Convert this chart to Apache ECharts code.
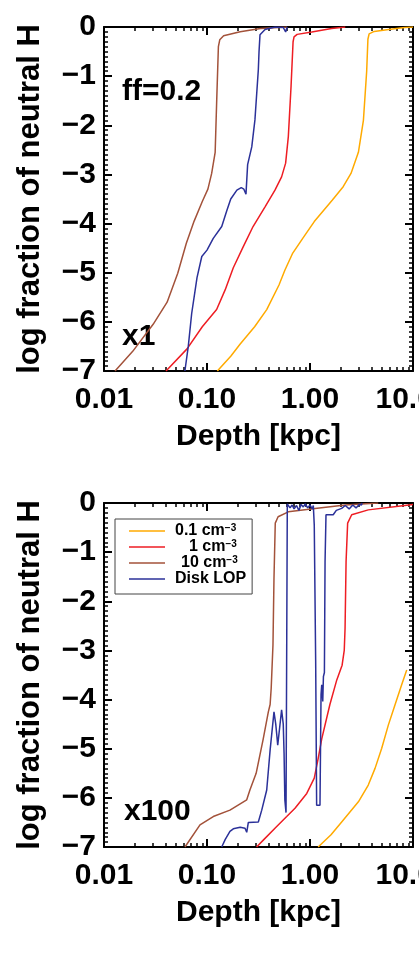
<!DOCTYPE html>
<html><head><meta charset="utf-8">
<script src="https://cdn.jsdelivr.net/npm/echarts@6/dist/echarts.min.js"></script>
<style>html,body{margin:0;padding:0;background:#fff}#c{width:419px;height:955px}</style>
</head><body><div id="c"></div>
<script>
// ---- data (x = depth in kpc, y = log fraction of neutral H) ----
const seriesNames = ['0.1 cm-3', '1 cm-3', '10 cm-3', 'Disk LOP'];
const xTickValues = [0.01, 0.1, 1, 10];
const xMinorValues = [0.02,0.03,0.04,0.05,0.06,0.07,0.08,0.09,0.2,0.3,0.4,0.5,0.6,0.7,0.8,0.9,2,3,4,5,6,7,8,9];
const panelLabels = ['x1', 'x100'];
const topNote = 'ff=0.2';

// panel 1 (x1, ff=0.2)
const topOrange = [[0.126,-7],[0.17,-6.7],[0.21,-6.45],[0.29,-6.1],[0.38,-5.75],[0.5,-5.25],[0.57,-4.95],[0.68,-4.6],[0.85,-4.3],[1.1,-3.96],[1.65,-3.52],[2.1,-3.25],[2.5,-2.98],[2.95,-2.55],[3.3,-1.9],[3.55,-0.9],[3.65,-0.25],[3.75,-0.14],[4.2,-0.09],[5.8,-0.05],[8.3,-0.01],[10,0]];
const topRed = [[0.04,-7],[0.064,-6.55],[0.09,-6.1],[0.124,-5.75],[0.15,-5.35],[0.18,-4.9],[0.225,-4.47],[0.28,-4.06],[0.366,-3.66],[0.457,-3.32],[0.53,-3.05],[0.58,-2.77],[0.616,-2.23],[0.655,-1.2],[0.685,-0.3],[0.7,-0.2],[0.75,-0.15],[1.04,-0.1],[1.62,-0.03],[2.2,0]];
const topBrown = [[0.0128,-7],[0.019,-6.6],[0.03,-6.05],[0.041,-5.6],[0.052,-5.01],[0.063,-4.4],[0.075,-3.95],[0.09,-3.55],[0.102,-3.3],[0.111,-2.98],[0.12,-2.55],[0.124,-1.55],[0.129,-0.4],[0.133,-0.26],[0.145,-0.18],[0.21,-0.095],[0.33,-0.03],[0.6,0]];
const topBlue = [[0.061,-7],[0.0658,-6.5],[0.071,-5.83],[0.08,-5.1],[0.089,-4.67],[0.1,-4.54],[0.115,-4.3],[0.139,-4.06],[0.155,-3.75],[0.17,-3.5],[0.195,-3.32],[0.215,-3.27],[0.228,-3.3],[0.239,-3.4],[0.248,-2.8],[0.272,-2.44],[0.292,-1.89],[0.315,-0.87],[0.32,-0.5],[0.327,-0.16],[0.366,-0.05],[0.457,0],[0.55,-0.01],[0.58,-0.1],[0.6,0]];

// panel 2 (x100)
const botOrange = [[1.2,-7],[1.6,-6.75],[2.03,-6.49],[2.95,-6.08],[3.68,-5.74],[4.28,-5.4],[4.97,-4.99],[5.76,-4.52],[6.68,-4.11],[7.76,-3.7],[8.69,-3.4]];
const botRed = [[0.303,-7],[0.352,-6.86],[0.457,-6.62],[0.594,-6.38],[0.715,-6.21],[0.93,-5.91],[1.1,-5.6],[1.2,-5.2],[1.3,-4.8],[1.56,-4.1],[1.82,-3.6],[2.05,-3.3],[2.15,-3.0],[2.19,-2.55],[2.24,-1.19],[2.32,-0.41],[2.54,-0.24],[3.68,-0.14],[8.3,-0.05],[10,-0.03]];
const botBrown = [[0.0611,-7],[0.0855,-6.55],[0.115,-6.38],[0.167,-6.25],[0.243,-6.04],[0.261,-5.84],[0.3,-5.5],[0.35,-4.82],[0.394,-4.25],[0.41,-4.1],[0.42,-3.77],[0.437,-2.89],[0.447,-1.53],[0.46,-0.41],[0.49,-0.28],[0.616,-0.18],[1.12,-0.11],[2.2,-0.04],[4.6,0]];
const botBlue = [[0.139,-7],[0.15,-6.85],[0.167,-6.68],[0.18,-6.63],[0.21,-6.6],[0.234,-6.62],[0.243,-6.7],[0.252,-6.5],[0.315,-6.49],[0.34,-6.25],[0.38,-5.84],[0.41,-5.03],[0.447,-4.25],[0.465,-4.5],[0.475,-4.7],[0.486,-4.93],[0.505,-4.93],[0.53,-4.21],[0.55,-4.5],[0.56,-5.09],[0.57,-6.04],[0.585,-6.3],[0.598,-6.3],[0.602,-0.02],[0.61,-0.02],[0.64,-0.1],[0.67,-0.04],[0.7,-0.12],[0.74,-0.05],[0.78,-0.15],[0.82,-0.03],[0.86,-0.08],[0.9,-0.02],[0.95,-0.1],[1.0,-0.04],[1.05,-0.12],[1.077,-0.05],[1.1,-0.45],[1.135,-3.2],[1.16,-6.15],[1.25,-6.15],[1.28,-3.9],[1.3,-3.7],[1.33,-4.04],[1.35,-3.53],[1.38,-3.45],[1.4,-1.2],[1.43,-0.24],[1.68,-0.24],[1.8,-0.15],[2.03,-0.11],[2.2,-0.05],[2.4,-0.12],[2.6,-0.04],[2.8,-0.1],[3.0,-0.03],[3.17,-0.04],[3.2,0]];

const colors = ['#FFAA00', '#EE1D23', '#A3523A', '#2B3199'];
const FONT = 'Liberation Sans, Arial, Helvetica, sans-serif';

const grids = [
  {left:104, top:27, width:309, height:344, show:false, containLabel:false, outerBoundsMode:'none'},
  {left:104, top:503, width:309, height:344, show:false, containLabel:false, outerBoundsMode:'none'}
];
const xAxes = [], yAxes = [];
function addX(gi, pos, main, minor){
  xAxes.push({
    type:'log', logBase:10, min:0.01, max:10, gridIndex:gi, position:pos,
    name: (main && pos==='bottom') ? 'Depth [kpc]' : '', nameLocation:'middle', nameGap:51, nameMoveOverlap:false,
    nameTextStyle:{fontFamily:FONT, fontWeight:'bold', fontSize:30, color:'#000'},
    axisLine:{show:main, onZero:false, lineStyle:{color:'#000', width:2}},
    axisTick:minor ? {show:true, inside:true, length:4, customValues:xMinorValues, lineStyle:{color:'#000', width:1.5}}
                   : {show:true, inside:true, length:8, customValues:xTickValues, lineStyle:{color:'#000', width:2}},
    axisLabel:{show:(main && pos==='bottom'), margin:14, customValues:xTickValues, fontFamily:FONT, fontWeight:'bold', fontSize:30, color:'#000',
      formatter:v=>Number(v).toFixed(2), hideOverlap:false, showMaxLabel:true, showMinLabel:true},
    splitLine:{show:false}, minorTick:{show:false}, minorSplitLine:{show:false}
  });
}
function addY(gi, pos){
  yAxes.push({
    type:'value', min:-7, max:0, interval:1, gridIndex:gi, position:pos,
    name: pos==='left' ? 'log fraction of neutral H' : '', nameLocation:'middle', nameGap:58, nameMoveOverlap:false,
    nameTextStyle:{fontFamily:FONT, fontWeight:'bold', fontSize:31, color:'#000'},
    axisLine:{show:true, onZero:false, lineStyle:{color:'#000', width:2}},
    axisTick:{show:true, inside:true, length:8, lineStyle:{color:'#000', width:2}},
    minorTick:{show:true, splitNumber:10, length:4, lineStyle:{color:'#000', width:1.5}},
    axisLabel:{show:pos==='left', margin:8, fontFamily:FONT, fontWeight:'bold', fontSize:30, color:'#000',
      formatter:v=> v===0 ? '0' : '\u2212'+Math.abs(v)},
    splitLine:{show:false}
  });
}
for (let g=0; g<2; g++){
  addX(g,'bottom',true,false); addX(g,'bottom',false,true);
  addX(g,'top',true,false); addX(g,'top',false,true);
  addY(g,'left'); addY(g,'right');
}
const panelData = [[topOrange, topRed, topBrown, topBlue],[botOrange, botRed, botBrown, botBlue]];
const series = [];
for (let g=0; g<2; g++){
  panelData[g].forEach((d,i)=>{
    series.push({type:'line', name:seriesNames[i], xAxisIndex:g*4, yAxisIndex:g*2, data:d,
      symbol:'none', showSymbol:false, smooth:false, clip:true, animation:false,
      lineStyle:{color:colors[i], width:1.5}, itemStyle:{color:colors[i]}, z:3});
  });
}
const numPad = {'0.1':'a', '1':'b', '10':'c'};
const chart = echarts.init(document.getElementById('c'), null, {renderer:'canvas'});
chart.setOption({
  backgroundColor:'#fff', animation:false,
  grid:grids, xAxis:xAxes, yAxis:yAxes, series:series,
  legend:{
    data:seriesNames.map(n=>({name:n, icon:'rect'})), orient:'vertical', left:115, top:519,
    itemWidth:36, itemHeight:1.5, itemGap:0, padding:[4,6,7,14],
    borderColor:'#444', borderWidth:1, borderRadius:0, backgroundColor:'#fff',
    selectedMode:false,
    formatter:function(name){
      if (name==='Disk LOP') return '{d|Disk LOP}';
      const num = name.split(' ')[0];
      return '{'+numPad[num]+'|'+num+'}{u| cm}{s|\u22123}';
    },
    textStyle:{fontFamily:FONT, fontWeight:'bold', fontSize:16, color:'#000', lineHeight:16,
      rich:{
        a:{fontFamily:FONT, fontWeight:'bold', fontSize:16, lineHeight:16, padding:[0,0,0,5]},
        b:{fontFamily:FONT, fontWeight:'bold', fontSize:16, lineHeight:16, padding:[0,0,0,19]},
        c:{fontFamily:FONT, fontWeight:'bold', fontSize:16, lineHeight:16, padding:[0,0,0,11]},
        u:{fontFamily:FONT, fontWeight:'bold', fontSize:16, lineHeight:16},
        s:{fontFamily:FONT, fontWeight:'bold', fontSize:10, lineHeight:10, verticalAlign:'top', padding:[0,0,6,0]},
        d:{fontFamily:FONT, fontWeight:'bold', fontSize:16, lineHeight:16, padding:[0,0,0,5]}
      }}
  },
  graphic:[
    {type:'text', left:122, top:77, style:{text:topNote, font:'bold 30px '+FONT, fill:'#000'}},
    {type:'text', left:122, top:322, style:{text:panelLabels[0], font:'bold 30px '+FONT, fill:'#000'}},
    {type:'text', left:124, top:797, style:{text:panelLabels[1], font:'bold 30px '+FONT, fill:'#000'}}
  ]
});
</script></body></html>
